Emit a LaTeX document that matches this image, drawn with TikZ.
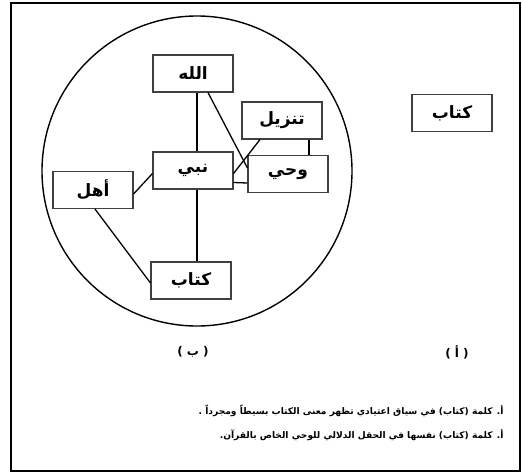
\documentclass[tikz,border=0pt]{standalone}
\usepackage{fontspec}
\usetikzlibrary{calc}
\TeXXeTstate=1
\newfontfamily\arabicfont[Script=Arabic]{DejaVu Sans}
\newfontfamily\parenfont{DejaVu Sans}

\begin{document}
\begin{tikzpicture}[x=1pt, y=-1pt,
    concept/.style={draw=black!75, line width=1.1pt, fill=white,
      minimum width=80pt, minimum height=37pt, inner sep=0pt,
      font=\arabicfont\bfseries\fontsize{17}{19}\selectfont},
    link/.style={line width=1.3pt},
    caption/.style={font=\arabicfont\bfseries\fontsize{12}{14}\selectfont},
    note/.style={anchor=east, font=\arabicfont\bfseries\fontsize{9.1}{11}\selectfont}]
  \useasboundingbox (0,0) rectangle (522,474);
  \draw[line width=2pt] (11,3) rectangle (520,471);
  \draw[line width=1.4pt] (197,171) circle (155pt);

  % semantic field (b)
  \node[concept] (allah)  at (193,73.5)  {الله};
  \node[concept] (tanzil) at (282,120.5) {تنزيل};
  \node[concept] (nabi)   at (193,170.5) {نبي};
  \node[concept] (wahy)   at (288,174)   {وحي};
  \node[concept] (ahl)    at (93,190)    {أهل};
  \node[concept] (kitab)  at (191,280.5) {كتاب};

  % plain word (a)
  \node[concept] (kitabA) at (452,113) {كتاب};

  \draw[link] ($(allah.south)+(4,0)$) -- ($(nabi.north)+(4,0)$);
  \draw[link] ($(allah.south)+(15,0)$) -- ($(wahy.west)+(0,-6)$);
  \draw[link] ($(tanzil.south)+(-22,0)$) -- ($(nabi.east)+(0,3)$);
  \draw[link] ($(tanzil.south)+(27,0)$) -- ($(wahy.north)+(21,0)$);
  \draw[link] ($(nabi.east)+(0,12)$) -- ($(wahy.west)+(0,9)$);
  \draw[link] ($(nabi.west)+(0,3)$) -- ($(ahl.east)+(0,4)$);
  \draw[link] ($(ahl.south)+(2,0)$) -- ($(kitab.west)+(0,2.5)$);
  \draw[link] ($(nabi.south)+(4,0)$) -- ($(kitab.north)+(6,0)$);

  \node[caption] (capB) at (193,352) {{\parenfont(} ب {\parenfont)}};
  \node[caption] (capA) at (457,352) {{\parenfont(} أ {\parenfont)}};

  \node[note] (noteA) at (507,411) {\beginR أ. كلمة (كتاب) في سياق اعتيادي تظهر معنى الكتاب بسيطاً ومجرداً .\endR};
  \node[note] (noteB) at (507,435) {\beginR أ. كلمة (كتاب) نفسها في الحقل الدلالي للوحي الخاص بالقرآن.\endR};
\end{tikzpicture}
\end{document}
